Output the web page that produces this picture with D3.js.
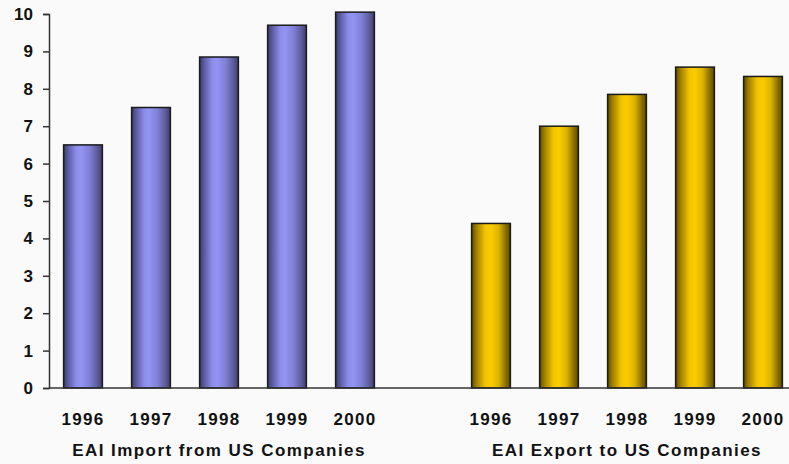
<!DOCTYPE html>
<html>
<head>
<meta charset="utf-8">
<script src="https://d3js.org/d3.v7.min.js"></script>
<style>
  body { margin: 0; background: #fafafa; }
  text { font-family: "Liberation Sans", Arial, sans-serif; font-weight: bold; fill: #111; }
</style>
</head>
<body>
<script>
// chart data
var years = ["1996", "1997", "1998", "1999", "2000"];
var importValues = [6.5, 7.5, 8.85, 9.7, 10.05];
var exportValues = [4.4, 7.0, 7.85, 8.58, 8.33];
var groupTitles = ["EAI Import from US Companies", "EAI Export to US Companies"];
var yTicks = [0, 1, 2, 3, 4, 5, 6, 7, 8, 9, 10];

var W = 789, H = 464;
var margin = {top: 14, left: 49, bottom: 76};
var baseY = H - margin.bottom;

var svg = d3.select("body").append("svg")
    .attr("width", W).attr("height", H);

// slots: 5 import bars, 1 gap, 5 export bars
var slots = years.map(function(y) { return "i" + y; })
    .concat(["gap"])
    .concat(years.map(function(y) { return "e" + y; }));

var x = d3.scaleBand().domain(slots)
    .range([margin.left, margin.left + 68 * slots.length])
    .paddingInner(0.43).paddingOuter(0.215);

var y = d3.scaleLinear().domain([0, 10]).range([baseY, margin.top]);

// gradients for the cylinder look
var defs = svg.append("defs");
function makeGrad(id, stops) {
  var g = defs.append("linearGradient").attr("id", id)
      .attr("x1", "0%").attr("x2", "100%").attr("y1", "0%").attr("y2", "0%");
  stops.forEach(function(s) {
    g.append("stop").attr("offset", s[0]).attr("stop-color", s[1]);
  });
}
makeGrad("purple", [[0, "#3a3a66"], [0.12, "#5c5ca4"], [0.32, "#8c8ce8"], [0.45, "#9494f4"],
                    [0.68, "#7e7ed4"], [0.88, "#5a5a98"], [1, "#3e3e68"]]);
makeGrad("gold", [[0, "#584800"], [0.12, "#9c7e00"], [0.35, "#f2c400"], [0.5, "#fbcc00"],
                  [0.7, "#dcb200"], [0.88, "#8a7000"], [1, "#5a4800"]]);

var data = years.map(function(yr, i) { return {key: "i" + yr, year: yr, v: importValues[i], fill: "url(#purple)"}; })
    .concat(years.map(function(yr, i) { return {key: "e" + yr, year: yr, v: exportValues[i], fill: "url(#gold)"}; }));

svg.selectAll("rect.bar")
    .data(data)
    .enter().append("rect")
    .attr("class", "bar")
    .attr("x", function(d) { return x(d.key); })
    .attr("y", function(d) { return y(d.v); })
    .attr("width", x.bandwidth())
    .attr("height", function(d) { return baseY - y(d.v); })
    .attr("fill", function(d) { return d.fill; })
    .attr("stroke", "#1a1a1a")
    .attr("stroke-width", 1.5);

// y axis
var yAxis = svg.append("g")
    .attr("transform", "translate(" + margin.left + ",0)")
    .call(d3.axisLeft(y).tickValues(yTicks).tickSize(6).tickPadding(10).tickFormat(d3.format("d")));
yAxis.select(".domain").attr("stroke", "#333").attr("stroke-width", 1.5);
yAxis.selectAll(".tick line").attr("stroke", "#333").attr("stroke-width", 1.5);
yAxis.selectAll(".tick text")
    .style("font-size", "17px").style("font-family", "Liberation Sans, Arial, sans-serif")
    .style("font-weight", "bold").attr("fill", "#111");

// baseline
svg.append("line")
    .attr("x1", margin.left).attr("x2", W)
    .attr("y1", baseY).attr("y2", baseY)
    .attr("stroke", "#333").attr("stroke-width", 1.5);

// year labels
svg.selectAll("text.year")
    .data(data)
    .enter().append("text")
    .attr("class", "year")
    .attr("x", function(d) { return x(d.key) + x.bandwidth() / 2; })
    .attr("y", baseY + 37)
    .attr("text-anchor", "middle")
    .style("font-size", "17px")
    .style("letter-spacing", "1.3px")
    .text(function(d) { return d.year; });

// group titles
var groupCenters = [x("i1998") + x.bandwidth() / 2, x("e1998") + x.bandwidth() / 2];
svg.selectAll("text.group")
    .data(groupTitles)
    .enter().append("text")
    .attr("class", "group")
    .attr("x", function(d, i) { return groupCenters[i]; })
    .attr("y", baseY + 68)
    .attr("text-anchor", "middle")
    .style("font-size", "17px")
    .style("letter-spacing", "1.45px")
    .text(function(d) { return d; });
</script>
</body>
</html>
